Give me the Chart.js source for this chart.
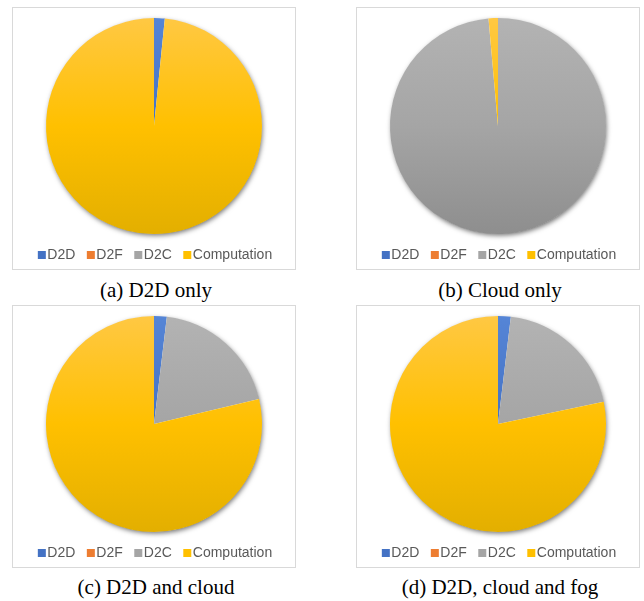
<!DOCTYPE html>
<html>
<head>
<meta charset="utf-8">
<script src="https://cdn.jsdelivr.net/npm/chart.js@4/dist/chart.umd.min.js"></script>
<style>
  html, body { margin: 0; padding: 0; background: #fff; }
  body { width: 644px; height: 601px; position: relative; overflow: hidden; }
  .panel { position: absolute; width: 282px; height: 261px; border: 1px solid #d9d9d9; background: #fff; }
  .panel canvas { display: block; }
  .caption { position: absolute; width: 300px; text-align: center; font-family: "Liberation Serif", "Times New Roman", serif;
             font-size: 21px; line-height: 21px; color: #000; white-space: nowrap; }
</style>
</head>
<body>
<div class="panel" style="left:12px; top:7px;"><canvas id="pa" width="282" height="261"></canvas></div>
<div class="panel" style="left:356px; top:7px;"><canvas id="pb" width="282" height="261"></canvas></div>
<div class="panel" style="left:12px; top:305px;"><canvas id="pc" width="282" height="261"></canvas></div>
<div class="panel" style="left:356px; top:305px;"><canvas id="pd" width="282" height="261"></canvas></div>
<div class="caption" id="ca" style="left:6px; top:280px;"></div>
<div class="caption" id="cb" style="left:350px; top:280px;"></div>
<div class="caption" id="cc" style="left:6px; top:577px;"></div>
<div class="caption" id="cd" style="left:350px; top:577px;"></div>
<script>
// Share of total latency/energy per component, in percent
const categories = ['D2D', 'D2F', 'D2C', 'Computation'];
const d2dOnly     = [1.6, 0, 0, 98.4];
const cloudOnly   = [0, 0, 98.6, 1.4];
const d2dCloud    = [1.9, 0, 19.4, 78.7];
const d2dCloudFog = [1.9, 0, 19.8, 78.3];
const captions = ['(a) D2D only', '(b) Cloud only', '(c) D2D and cloud', '(d) D2D, cloud and fog'];

// Solid swatch colours and the light/dark ends of each slice's vertical gradient
const solid = ['#4472C4', '#ED7D31', '#A5A5A5', '#FFC000'];
const light = ['#5585D6', '#F58E4A', '#B3B3B3', '#FFC843'];
const dark  = ['#3A64B0', '#D56C20', '#8E8E8E', '#E3AF00'];

function sliceFill(ctx) {
  const i = ctx.dataIndex;
  const area = ctx.chart.chartArea;
  if (!area) return solid[i];
  const g = ctx.chart.ctx.createLinearGradient(0, area.top, 0, area.bottom);
  g.addColorStop(0, light[i]);
  g.addColorStop(0.5, solid[i]);
  g.addColorStop(1, dark[i]);
  return g;
}

// Soft drop shadow behind the whole pie
const pieShadow = {
  id: 'pieShadow',
  beforeDatasetsDraw(chart) {
    const arc = chart.getDatasetMeta(0).data[0];
    if (!arc) return;
    const c = chart.ctx;
    c.save();
    c.shadowColor = 'rgba(0,0,0,0.55)';
    c.shadowBlur = 5;
    c.shadowOffsetX = 1;
    c.shadowOffsetY = 2;
    c.fillStyle = '#ffffff';
    c.beginPath();
    c.arc(arc.x, arc.y, arc.outerRadius - 0.5, 0, Math.PI * 2);
    c.fill();
    c.restore();
  }
};

// Compact legend row under the pie: square swatch tight against its label
const swatchLegend = {
  id: 'swatchLegend',
  afterDraw(chart) {
    const c = chart.ctx;
    const labels = chart.data.labels;
    const font = '14px "Liberation Sans", Arial, sans-serif';
    const box = 8, gapIn = 1.5, gapOut = 11.5;
    c.save();
    c.font = font;
    let total = 0;
    labels.forEach((t, i) => {
      total += box + gapIn + c.measureText(t).width + (i < labels.length - 1 ? gapOut : 0);
    });
    let x = chart.width / 2 - total / 2 + 1;
    const base = 251;
    c.textBaseline = 'alphabetic';
    labels.forEach((t, i) => {
      c.fillStyle = solid[i];
      c.fillRect(x, base - box, box, box);
      x += box + gapIn;
      c.fillStyle = '#595959';
      c.fillText(t, x, base);
      x += c.measureText(t).width + gapOut;
    });
    c.restore();
  }
};

function makePie(id, values) {
  return new Chart(document.getElementById(id), {
    type: 'pie',
    data: {
      labels: categories,
      datasets: [{ data: values, backgroundColor: sliceFill, borderWidth: 0, hoverOffset: 0 }]
    },
    options: {
      responsive: false,
      animation: false,
      layout: { padding: { top: 10, bottom: 35, left: 0, right: 0 } },
      plugins: { legend: { display: false }, tooltip: { enabled: false } }
    },
    plugins: [pieShadow, swatchLegend]
  });
}

makePie('pa', d2dOnly);
makePie('pb', cloudOnly);
makePie('pc', d2dCloud);
makePie('pd', d2dCloudFog);

['ca', 'cb', 'cc', 'cd'].forEach((id, i) => {
  document.getElementById(id).textContent = captions[i];
});
</script>
</body>
</html>
